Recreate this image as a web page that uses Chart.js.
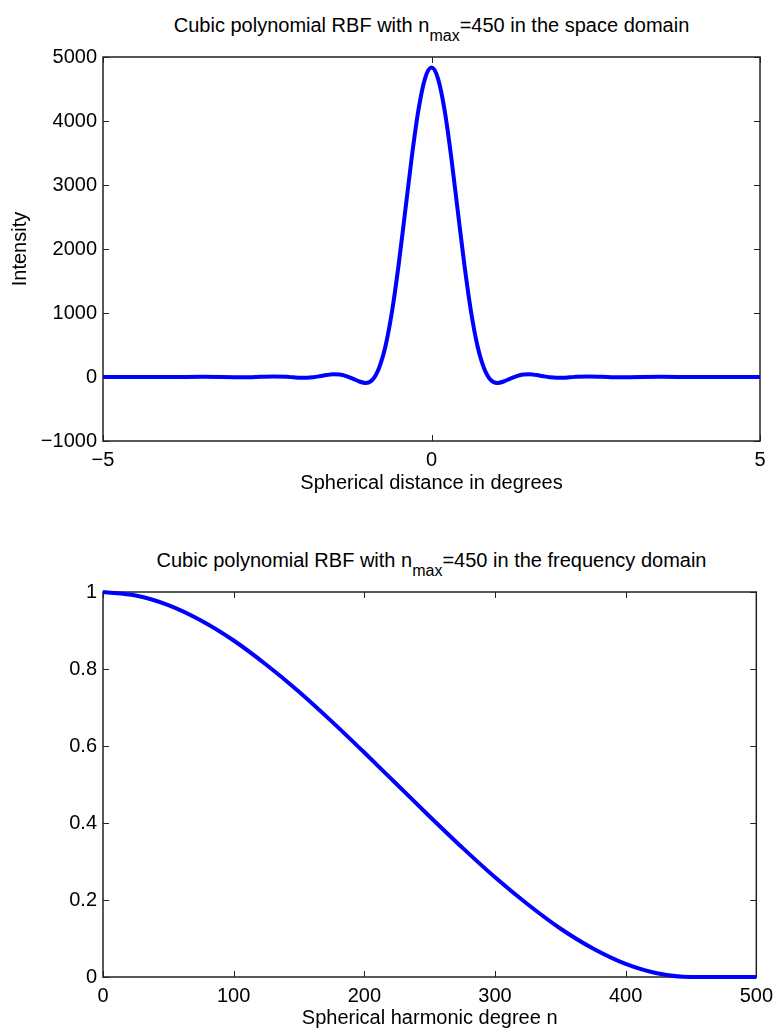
<!DOCTYPE html>
<html>
<head>
<meta charset="utf-8">
<script src="https://cdn.jsdelivr.net/npm/chart.js@4.4.0/dist/chart.umd.min.js"></script>
<style>
body{margin:0;background:#fff;}
#wrap{position:relative;width:780px;height:1032px;font-family:"Liberation Sans",Arial,sans-serif;}
.box{position:absolute;left:0;width:780px;height:516px;}
.ttl{position:absolute;left:103px;width:657px;text-align:center;font-size:20px;line-height:22px;color:#000;white-space:nowrap;}
.ttl sub{font-size:16px;vertical-align:-9px;line-height:0;}
</style>
</head>
<body>
<div id="wrap">
  <div class="ttl" style="top:14px">Cubic polynomial RBF with n<sub>max</sub>=450 in the space domain</div>
  <div class="box" style="top:0"><canvas id="spaceChart"></canvas></div>
  <div class="ttl" style="top:549px">Cubic polynomial RBF with n<sub>max</sub>=450 in the frequency domain</div>
  <div class="box" style="top:516px"><canvas id="freqChart"></canvas></div>
</div>
<script>
// space domain (degrees vs intensity)
const distDeg = [-5, -4.5, -4, -3.5, -3, -2.8, -2.6, -2.4, -2.2, -2.1, -2.0, -1.9, -1.8, -1.7, -1.6, -1.5, -1.4, -1.3, -1.2, -1.1,
  -1.0, -0.9, -0.8, -0.7, -0.6, -0.5, -0.4, -0.3, -0.2, -0.1, 0,
  0.1, 0.2, 0.3, 0.4, 0.5, 0.6, 0.7, 0.8, 0.9, 1.0,
  1.1, 1.2, 1.3, 1.4, 1.5, 1.6, 1.7, 1.8, 1.9, 2.0, 2.1, 2.2, 2.4, 2.6, 2.8, 3, 3.5, 4, 4.5, 5];
const intensity = [0, 1, -1, 2, -2, -3, 2, 6, 2, -5, -10, -10, -3, 12, 30, 42, 38, 15, -25, -70,
  -92, -46, 137, 484, 1031, 1756, 2592, 3438, 4165, 4659, 4834,
  4659, 4165, 3438, 2592, 1756, 1031, 484, 137, -46, -92,
  -70, -25, 15, 38, 42, 30, 12, -3, -10, -10, -5, 2, 6, 2, -3, -2, 2, -1, 1, 0];
const spaceXTicks = [-5, 0, 5];
const spaceYTicks = [-1000, 0, 1000, 2000, 3000, 4000, 5000];

// frequency domain (degree n vs coefficient)
const degreeN = [0, 25, 50, 75, 100, 125, 150, 175, 200, 225, 250, 275, 300, 325, 350, 375, 400, 425, 450, 475, 500];
const coefficient = [1, 0.991, 0.966, 0.926, 0.874, 0.811, 0.741, 0.664, 0.583, 0.5, 0.417, 0.336, 0.259, 0.189, 0.126, 0.074, 0.034, 0.009, 0, 0, 0];
const freqXTicks = [0, 100, 200, 300, 400, 500];
const freqYTicks = [0, 0.2, 0.4, 0.6, 0.8, 1];

const fontFam = '"Liberation Sans", Arial, sans-serif';
const frameColor = '#222';

function minus(v){
    return String(Math.round(v * 10) / 10).replace('-', '\u2212');
}

// MATLAB style box with inward ticks
const framePlugin = {
    id: 'frame',
    beforeDatasetsDraw(chart){
        const ctx = chart.ctx;
        const a = chart.chartArea;
        const xs = chart.scales.x, ys = chart.scales.y;
        ctx.save();
        ctx.strokeStyle = frameColor;
        ctx.lineWidth = 1.5;
        ctx.strokeRect(a.left, a.top, a.right - a.left, a.bottom - a.top);
        ctx.lineWidth = 1;
        ctx.beginPath();
        xs.ticks.forEach(t => {
            const px = Math.round(xs.getPixelForValue(t.value)) + 0.5;
            ctx.moveTo(px, a.bottom); ctx.lineTo(px, a.bottom - 6);
            ctx.moveTo(px, a.top); ctx.lineTo(px, a.top + 6);
        });
        ys.ticks.forEach(t => {
            const py = Math.round(ys.getPixelForValue(t.value)) + 0.5;
            ctx.moveTo(a.left, py); ctx.lineTo(a.left + 6, py);
            ctx.moveTo(a.right, py); ctx.lineTo(a.right - 6, py);
        });
        ctx.stroke();
        ctx.restore();
    }
};

function makeChart(id, xs, ys, xTicks, yTicks, cfg){
    const points = xs.map((x, i) => ({x: x, y: ys[i]}));
    return new Chart(document.getElementById(id), {
        type: 'line',
        data: {
            datasets: [{
                data: points,
                borderColor: '#0000ff',
                borderWidth: 4,
                pointRadius: 0,
                cubicInterpolationMode: 'monotone',
                clip: 5
            }]
        },
        options: {
            responsive: true,
            maintainAspectRatio: false,
            animation: false,
            layout: {padding: {top: cfg.padTop, right: 20, left: 0, bottom: 0}},
            plugins: {legend: {display: false}, tooltip: {enabled: false}},
            scales: {
                x: {
                    type: 'linear',
                    min: xTicks[0],
                    max: xTicks[xTicks.length - 1],
                    afterBuildTicks(s){ s.ticks = xTicks.map(v => ({value: v})); },
                    afterFit(s){ s.height = cfg.xHeight; },
                    grid: {display: false, drawTicks: false},
                    border: {display: false},
                    ticks: {color: '#000', padding: 7, maxRotation: 0, font: {family: fontFam, size: 20}, callback: v => minus(v)},
                    title: {display: true, text: cfg.xTitle, color: '#000', font: {family: fontFam, size: 20}, padding: {top: 0, bottom: cfg.xTitlePad}}
                },
                y: {
                    min: yTicks[0],
                    max: yTicks[yTicks.length - 1],
                    afterBuildTicks(s){ s.ticks = yTicks.map(v => ({value: v})); },
                    afterFit(s){ s.width = 103; },
                    grid: {display: false, drawTicks: false},
                    border: {display: false},
                    ticks: {color: '#000', padding: 6, font: {family: fontFam, size: 20}, callback: v => minus(v)},
                    title: {display: cfg.yTitle !== '', text: cfg.yTitle, color: '#000', font: {family: fontFam, size: 20}, padding: {top: 8, bottom: 0}}
                }
            }
        },
        plugins: [framePlugin]
    });
}

makeChart('spaceChart', distDeg, intensity, spaceXTicks, spaceYTicks,
    {padTop: 57, xHeight: 75, xTitle: 'Spherical distance in degrees', xTitlePad: 21, yTitle: 'Intensity'});
makeChart('freqChart', degreeN, coefficient, freqXTicks, freqYTicks,
    {padTop: 76, xHeight: 55, xTitle: 'Spherical harmonic degree n', xTitlePad: 2, yTitle: ''});
</script>
</body>
</html>
